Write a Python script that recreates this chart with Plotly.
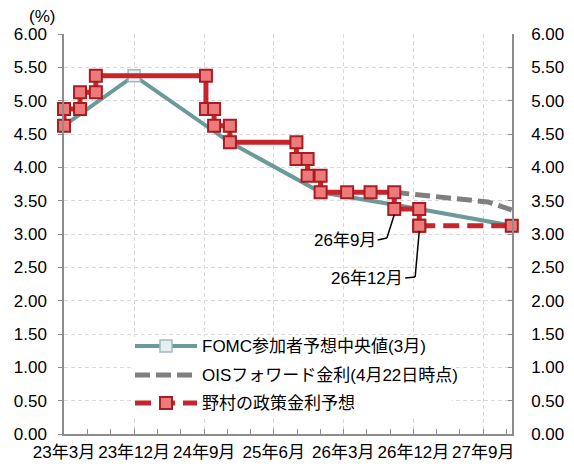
import plotly.graph_objects as go

# ---------------- data ----------------
nomura_dates = ["2023-03-01", "2023-03-01", "2023-05-03", "2023-05-03", "2023-07-04", "2023-07-04",
                "2024-09-08", "2024-09-08", "2024-10-10", "2024-10-10", "2024-12-11", "2024-12-11",
                "2025-08-29", "2025-08-29", "2025-10-12", "2025-10-12", "2025-12-02", "2025-12-02",
                "2026-03-16", "2026-06-16", "2026-09-17", "2026-09-17", "2026-12-24", "2026-12-24"]
nomura_rates = [4.625, 4.875, 4.875, 5.125, 5.125, 5.375, 5.375, 4.875, 4.875, 4.625, 4.625, 4.375,
                4.375, 4.125, 4.125, 3.875, 3.875, 3.625, 3.625, 3.625, 3.625, 3.375, 3.375, 3.125]
nomura_fc_dates = ["2026-12-24", "2027-12-22"]
nomura_fc_rates = [3.125, 3.125]

fomc_dates = ["2023-03-01", "2023-12-01", "2024-12-11", "2025-12-02", "2026-12-24", "2027-12-22"]
fomc_rates = [4.625, 5.375, 4.375, 3.625, 3.375, 3.125]

ois_dates = ["2026-09-17", "2026-12-24", "2027-03-20", "2027-06-20", "2027-09-20", "2027-12-22"]
ois_rates = [3.625, 3.59, 3.55, 3.52, 3.48, 3.36]

x_tick_dates = ["2023-03-01", "2023-12-01", "2024-09-01", "2025-06-01", "2026-03-01", "2026-12-01", "2027-09-01"]
x_tick_labels = ["23年3月", "23年12月", "24年9月", "25年6月", "26年3月", "26年12月", "27年9月"]
x_range = ["2023-03-01", "2027-12-23"]

series_names = ["FOMC参加者予想中央値(3月)", "OISフォワード金利(4月22日時点)", "野村の政策金利予想"]

# ---------------- styles ----------------
TEAL = "#6b9a9b"
GRAY = "#7f7f7f"
RED = "#c8242b"
RED_FILL = "#ee7b7b"
RED_EDGE = "#a81c22"
AXIS = "#8c8c8c"
GRID = "#d9d9d9"
FONT = "Liberation Sans, Arial, Noto Sans CJK JP, sans-serif"

# page offset of the body (8px default margin) is compensated here
OFF = 8
W, H = 574 - OFF, 466 - OFF
L, R, T, B = 64 - OFF, 62, 34 - OFF, 32
PW, PH = W - L - R, H - T - B
PLOT_LEFT, PLOT_BOTTOM = 64, 434  # page pixel positions of the plot area


def px_x(p):
    return (p - PLOT_LEFT) / PW


def px_y(p):
    return (PLOT_BOTTOM - p) / PH


red_marker = dict(symbol="square", size=12, color=RED_FILL, line=dict(color=RED_EDGE, width=2))

fig = go.Figure()
fig.add_trace(go.Scatter(x=fomc_dates, y=fomc_rates, mode="lines+markers", name=series_names[0],
                         line=dict(color=TEAL, width=4),
                         marker=dict(symbol="square", size=12, color="#e6eef0",
                                     line=dict(color="#9dbcbf", width=1.5)),
                         cliponaxis=False, showlegend=False, hoverinfo="skip"))
fig.add_trace(go.Scatter(x=ois_dates, y=ois_rates, mode="lines", name=series_names[1],
                         line=dict(color=GRAY, width=5, dash="15px,6px"),
                         cliponaxis=False, showlegend=False, hoverinfo="skip"))
fig.add_trace(go.Scatter(x=nomura_fc_dates, y=nomura_fc_rates, mode="lines+markers", name=series_names[2],
                         line=dict(color=RED, width=5, dash="16px,8px"), marker=red_marker,
                         cliponaxis=False, showlegend=False, hoverinfo="skip"))
fig.add_trace(go.Scatter(x=nomura_dates, y=nomura_rates, mode="lines+markers", name=series_names[2],
                         line=dict(color=RED, width=5), marker=red_marker,
                         cliponaxis=False, showlegend=False, hoverinfo="skip"))
# dummy trace so the right axis is drawn
fig.add_trace(go.Scatter(x=[x_range[0]], y=[0], yaxis="y2", mode="markers",
                         marker=dict(opacity=0), showlegend=False, hoverinfo="skip"))

yax = dict(range=[0, 6], dtick=0.5, tick0=0, tickformat=".2f", showline=True, linecolor=AXIS,
           linewidth=1.5, tickcolor=AXIS, ticklen=4, zeroline=False, fixedrange=True,
           tickfont=dict(size=17, color="#000"), automargin=False)

fig.update_layout(
    width=W, height=H, margin=dict(l=L, r=R, t=T, b=B),
    paper_bgcolor="white", plot_bgcolor="white",
    font=dict(family=FONT, size=17, color="#000"),
    showlegend=False, hovermode=False,
    xaxis=dict(type="date", range=x_range, tickmode="array", tickvals=x_tick_dates, ticktext=x_tick_labels,
               showline=True, linecolor=AXIS, linewidth=1.5, ticks="inside", ticklen=5, tickcolor=AXIS,
               showgrid=True, gridcolor=GRID, griddash="4px,3px", gridwidth=1, automargin=False,
               tickfont=dict(size=17, color="#000"), ticklabelstandoff=2,
               minor=dict(ticks="inside", ticklen=5, tickcolor=AXIS, dtick="M3", tick0="2023-03-01",
                          showgrid=False)),
    yaxis=dict(**yax, ticks="outside", showgrid=True, gridcolor=GRID, griddash="4px,3px", gridwidth=1,
               ticklabelstandoff=8),
    yaxis2=dict(**yax, overlaying="y", side="right", ticks="inside", showgrid=False, ticklabelstandoff=14),
)

shapes = []
annotations = []

# "(%)" unit label
annotations.append(dict(x=px_x(42), y=px_y(16), xref="paper", yref="paper", text="(%)", showarrow=False,
                        xanchor="center", yanchor="middle", font=dict(size=17)))

# callouts
annotations.append(dict(x="2026-07-14", y=2.91, xref="x", yref="y", text="26年9月", showarrow=False,
                        xanchor="right", yanchor="middle", font=dict(size=17)))
shapes.append(dict(type="line", xref="x", yref="y", x0="2026-07-14", y0=2.91, x1="2026-08-19", y1=2.94,
                   line=dict(color="#000", width=1.5)))
shapes.append(dict(type="line", xref="x", yref="y", x0="2026-08-19", y0=2.94, x1="2026-09-17", y1=3.29,
                   line=dict(color="#000", width=1.5)))

annotations.append(dict(x="2026-10-30", y=2.34, xref="x", yref="y", text="26年12月", showarrow=False,
                        xanchor="right", yanchor="middle", font=dict(size=17)))
shapes.append(dict(type="line", xref="x", yref="y", x0="2026-10-30", y0=2.34, x1="2026-12-08", y1=2.355,
                   line=dict(color="#000", width=1.5)))
shapes.append(dict(type="line", xref="x", yref="y", x0="2026-12-08", y0=2.355, x1="2026-12-24", y1=3.04,
                   line=dict(color="#000", width=1.5)))

# manual legend
shapes.append(dict(type="rect", xref="paper", yref="paper", x0=px_x(131), x1=px_x(452), y0=px_y(418),
                   y1=px_y(337), fillcolor="white", line=dict(width=0), layer="above"))
rows = [346, 375, 403]
lx0, lx1, mx = 135, 197, 166
shapes.append(dict(type="line", xref="paper", yref="paper", x0=px_x(lx0), x1=px_x(lx1), y0=px_y(rows[0]),
                   y1=px_y(rows[0]), line=dict(color=TEAL, width=4)))
shapes.append(dict(type="rect", xref="paper", yref="paper", x0=px_x(mx - 6), x1=px_x(mx + 6),
                   y0=px_y(rows[0] + 6), y1=px_y(rows[0] - 6), fillcolor="#e6eef0",
                   line=dict(color="#9dbcbf", width=1.5)))
shapes.append(dict(type="line", xref="paper", yref="paper", x0=px_x(lx0), x1=px_x(lx1), y0=px_y(rows[1]),
                   y1=px_y(rows[1]), line=dict(color=GRAY, width=5, dash="15px,6px")))
shapes.append(dict(type="line", xref="paper", yref="paper", x0=px_x(lx0), x1=px_x(lx1), y0=px_y(rows[2]),
                   y1=px_y(rows[2]), line=dict(color=RED, width=5, dash="16px,8px")))
shapes.append(dict(type="rect", xref="paper", yref="paper", x0=px_x(mx - 6), x1=px_x(mx + 6),
                   y0=px_y(rows[2] + 6), y1=px_y(rows[2] - 6), fillcolor=RED_FILL,
                   line=dict(color=RED_EDGE, width=2)))
for r, name in zip(rows, series_names):
    annotations.append(dict(x=px_x(200), y=px_y(r), xref="paper", yref="paper", text=name, showarrow=False,
                            xanchor="left", yanchor="middle", font=dict(size=17)))

fig.update_layout(shapes=shapes, annotations=annotations)
fig.write_html("out.html")
